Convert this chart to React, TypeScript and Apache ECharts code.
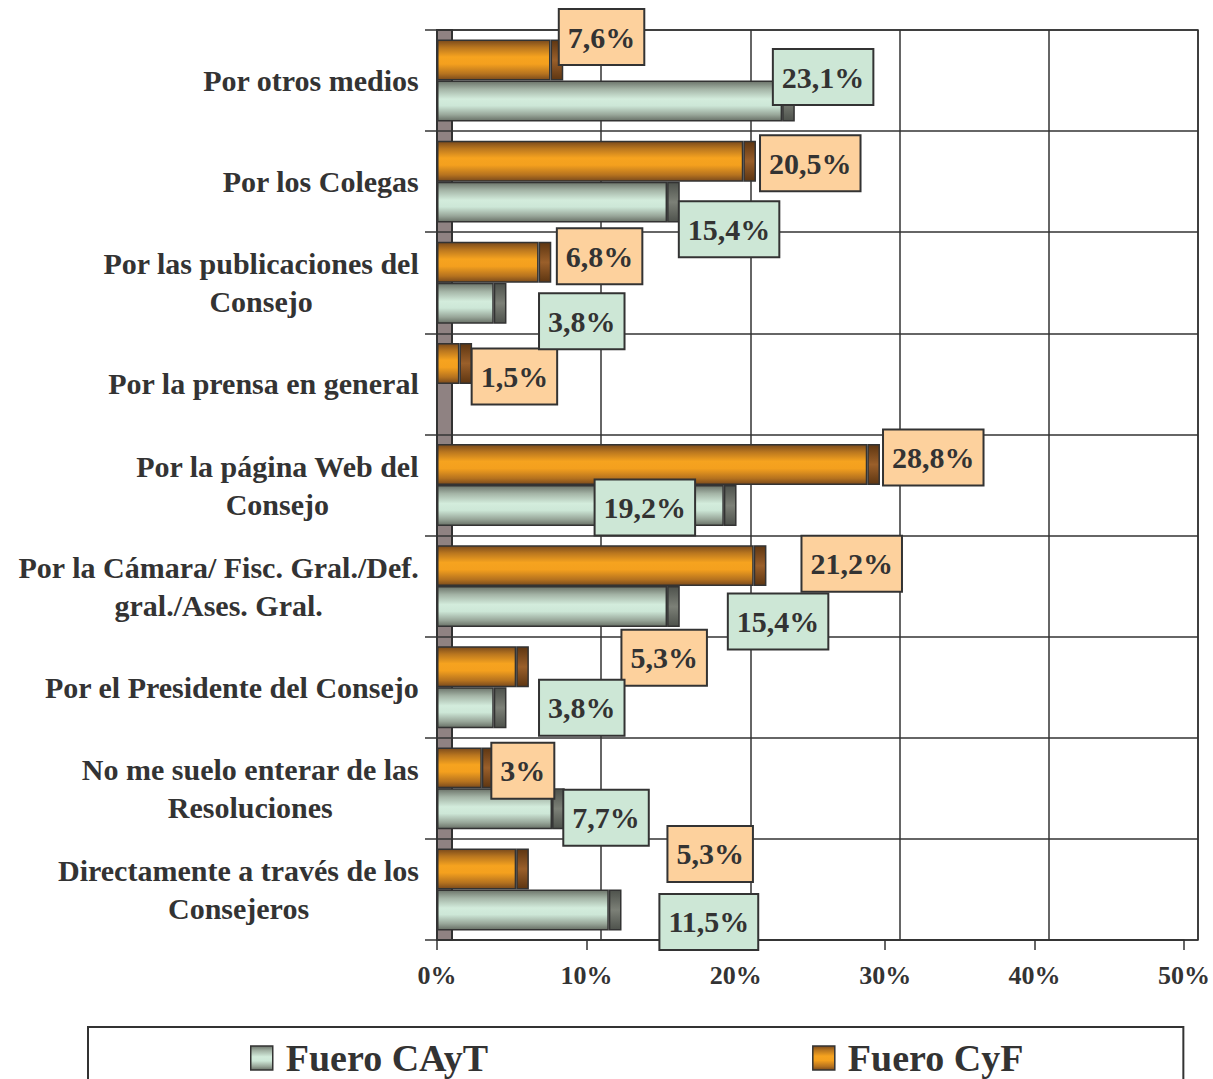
import React, { useEffect, useRef } from "react";
import * as echarts from "echarts";

const categories = [
  "Por otros medios",
  "Por los Colegas",
  "Por las publicaciones del\nConsejo",
  "Por la prensa en general",
  "Por la página Web del\nConsejo",
  "Por la Cámara/ Fisc. Gral./Def.\ngral./Ases. Gral.",
  "Por el Presidente del Consejo",
  "No me suelo enterar de las\nResoluciones",
  "Directamente a través de los\nConsejeros",
];
const cyfValues = [7.6, 20.5, 6.8, 1.5, 28.8, 21.2, 5.3, 3, 5.3];
const caytValues = [23.1, 15.4, 3.8, 0, 19.2, 15.4, 3.8, 7.7, 11.5];
const xTicks = [0, 10, 20, 30, 40, 50];

// label box offsets (layout only) relative to bar end / bar middle
const cyfLabelDx = [51, 67, 61, 55, 66, 98, 148, 41, 194];
const cyfLabelDy = [-23, 2, -6, 13, -7, -2, -9, 3, -15];
const caytLabelDx = [41, 62, 88, 0, -79, 111, 88, 54, 100];
const caytLabelDy = [-24, 27, 18, 0, 2, 15, 0, 9, 12];

const CAP = 0.85;
const FONT = "'Liberation Serif', 'Times New Roman', serif";
const TXT = "#333333";

const grad = (stops: [number, string][]) =>
  new echarts.graphic.LinearGradient(0, 0, 0, 1, stops.map(([offset, color]) => ({ offset, color })));

const orangeGrad = () =>
  grad([
    [0, "#7a4a1c"],
    [0.18, "#b9761f"],
    [0.42, "#f6a31f"],
    [0.6, "#f4a01e"],
    [0.85, "#b5721f"],
    [1, "#7a4a1c"],
  ]);
const greenGrad = () =>
  grad([
    [0, "#6c746a"],
    [0.2, "#a4b4a6"],
    [0.45, "#d3ecdc"],
    [0.62, "#cde7d7"],
    [0.85, "#98a699"],
    [1, "#687066"],
  ]);
const orangeCap = () =>
  grad([
    [0, "#5e3612"],
    [0.5, "#9a5f2a"],
    [1, "#5e3612"],
  ]);
const greenCap = () =>
  grad([
    [0, "#4e524c"],
    [0.5, "#7c8077"],
    [1, "#4e524c"],
  ]);

const fmt = (v: number) => String(v).replace(".", ",") + "%";

function mainData(values: number[], dx: number[], dy: number[], bg: string) {
  return values.map((v, i) =>
    v > 0
      ? {
          value: v,
          label: {
            show: true,
            position: ["100%", "50%"],
            offset: [dx[i], dy[i]],
            align: "center",
            verticalAlign: "middle",
            formatter: fmt(v),
            fontFamily: FONT,
            fontWeight: "bold",
            fontSize: 30,
            lineHeight: 36,
            color: TXT,
            backgroundColor: bg,
            borderColor: "#333",
            borderWidth: 2,
            padding: [9, 8, 9, 8],
          },
        }
      : "-"
  );
}

export default function App() {
  const ref = useRef<HTMLDivElement>(null);
  useEffect(() => {
    if (!ref.current) return;
    const chart = echarts.init(ref.current, undefined, { renderer: "svg" });
    const option: any = {
      animation: false,
      backgroundColor: "#ffffff",
      grid: [
        { left: 437, top: 30, width: 748, height: 910 },
        { left: 452, top: 30, width: 746, height: 910, show: true, borderColor: "#333", borderWidth: 1.5, backgroundColor: "transparent" },
        { left: 437, top: 30, width: 15, height: 910, show: true, backgroundColor: "#8f8282", borderColor: "#333", borderWidth: 2 },
      ],
      xAxis: [
        {
          gridIndex: 0,
          type: "value",
          min: 0,
          max: 50,
          interval: 10,
          axisLine: { show: true, lineStyle: { color: "#333", width: 1.5 } },
          axisTick: { show: true, length: 10, lineStyle: { color: "#333", width: 1.5 } },
          splitLine: { show: false },
          axisLabel: {
            margin: 22,
            formatter: (v: number) => (xTicks.includes(v) ? v + "%" : ""),
            fontFamily: FONT,
            fontWeight: "bold",
            fontSize: 26,
            color: TXT,
          },
        },
        {
          gridIndex: 1,
          type: "value",
          min: 0,
          max: 50,
          interval: 10,
          axisLine: { show: false },
          axisTick: { show: false },
          axisLabel: { show: false },
          splitLine: { show: true, lineStyle: { color: "#333", width: 1.5 } },
        },
        { gridIndex: 2, type: "value", show: false, min: 0, max: 1 },
      ],
      yAxis: [
        {
          gridIndex: 0,
          type: "category",
          inverse: true,
          data: categories,
          axisLine: { show: false },
          axisTick: { show: false },
          axisLabel: {
            margin: 18,
            align: "right",
            formatter: (v: string) => v.split("\n").map((l) => `{c|${l}}`).join("\n"),
            rich: {
              c: {
                fontFamily: FONT,
                fontWeight: "bold",
                fontSize: 30,
                lineHeight: 38,
                color: TXT,
                align: "center",
              },
            },
          },
        },
        {
          gridIndex: 1,
          type: "category",
          inverse: true,
          data: categories,
          z: 1,
          axisLine: { show: false },
          axisTick: { show: true, length: 27, lineStyle: { color: "#333", width: 1.5 } },
          axisLabel: { show: false },
          splitLine: { show: true, lineStyle: { color: "#333", width: 1.5 } },
        },
        { gridIndex: 2, type: "category", show: false, data: categories },
      ],
      legend: {
        data: ["Fuero CAyT", "Fuero CyF"],
        left: 88,
        top: 1027,
        orient: "horizontal",
        icon: "rect",
        itemWidth: 22,
        itemHeight: 24,
        itemGap: 324,
        padding: [12, 160, 40, 162],
        borderColor: "#333",
        borderWidth: 2,
        itemStyle: { borderColor: "#333", borderWidth: 1.5 },
        textStyle: {
          fontFamily: FONT,
          fontWeight: "bold",
          fontSize: 38,
          color: TXT,
          padding: [0, 0, 0, 8],
        },
      },
      series: [
        {
          name: "Fuero CyF",
          type: "bar",
          xAxisIndex: 0,
          yAxisIndex: 0,
          stack: "cyf",
          z: 3,
          barCategoryGap: "19%",
          barGap: "0%",
          itemStyle: { color: orangeGrad(), borderColor: "#333", borderWidth: 1.5 },
          data: mainData(cyfValues, cyfLabelDx, cyfLabelDy, "#fdd19d"),
        },
        {
          name: "capCyF",
          type: "bar",
          xAxisIndex: 0,
          yAxisIndex: 0,
          stack: "cyf",
          z: 2,
          itemStyle: { color: orangeCap(), borderColor: "#333", borderWidth: 1.5 },
          data: cyfValues.map((v) => (v > 0 ? CAP : "-")),
        },
        {
          name: "Fuero CAyT",
          type: "bar",
          xAxisIndex: 0,
          yAxisIndex: 0,
          stack: "cayt",
          z: 3,
          itemStyle: { color: greenGrad(), borderColor: "#333", borderWidth: 1.5 },
          data: mainData(caytValues, caytLabelDx, caytLabelDy, "#cde7d6"),
        },
        {
          name: "capCAyT",
          type: "bar",
          xAxisIndex: 0,
          yAxisIndex: 0,
          stack: "cayt",
          z: 2,
          itemStyle: { color: greenCap(), borderColor: "#333", borderWidth: 1.5 },
          data: caytValues.map((v) => (v > 0 ? CAP : "-")),
        },
      ],
    };
    chart.setOption(option);
    return () => chart.dispose();
  }, []);
  return (
    <div
      ref={ref}
      style={{ position: "fixed", left: 0, top: 0, width: 1213, height: 1079, overflow: "hidden" }}
    />
  );
}
